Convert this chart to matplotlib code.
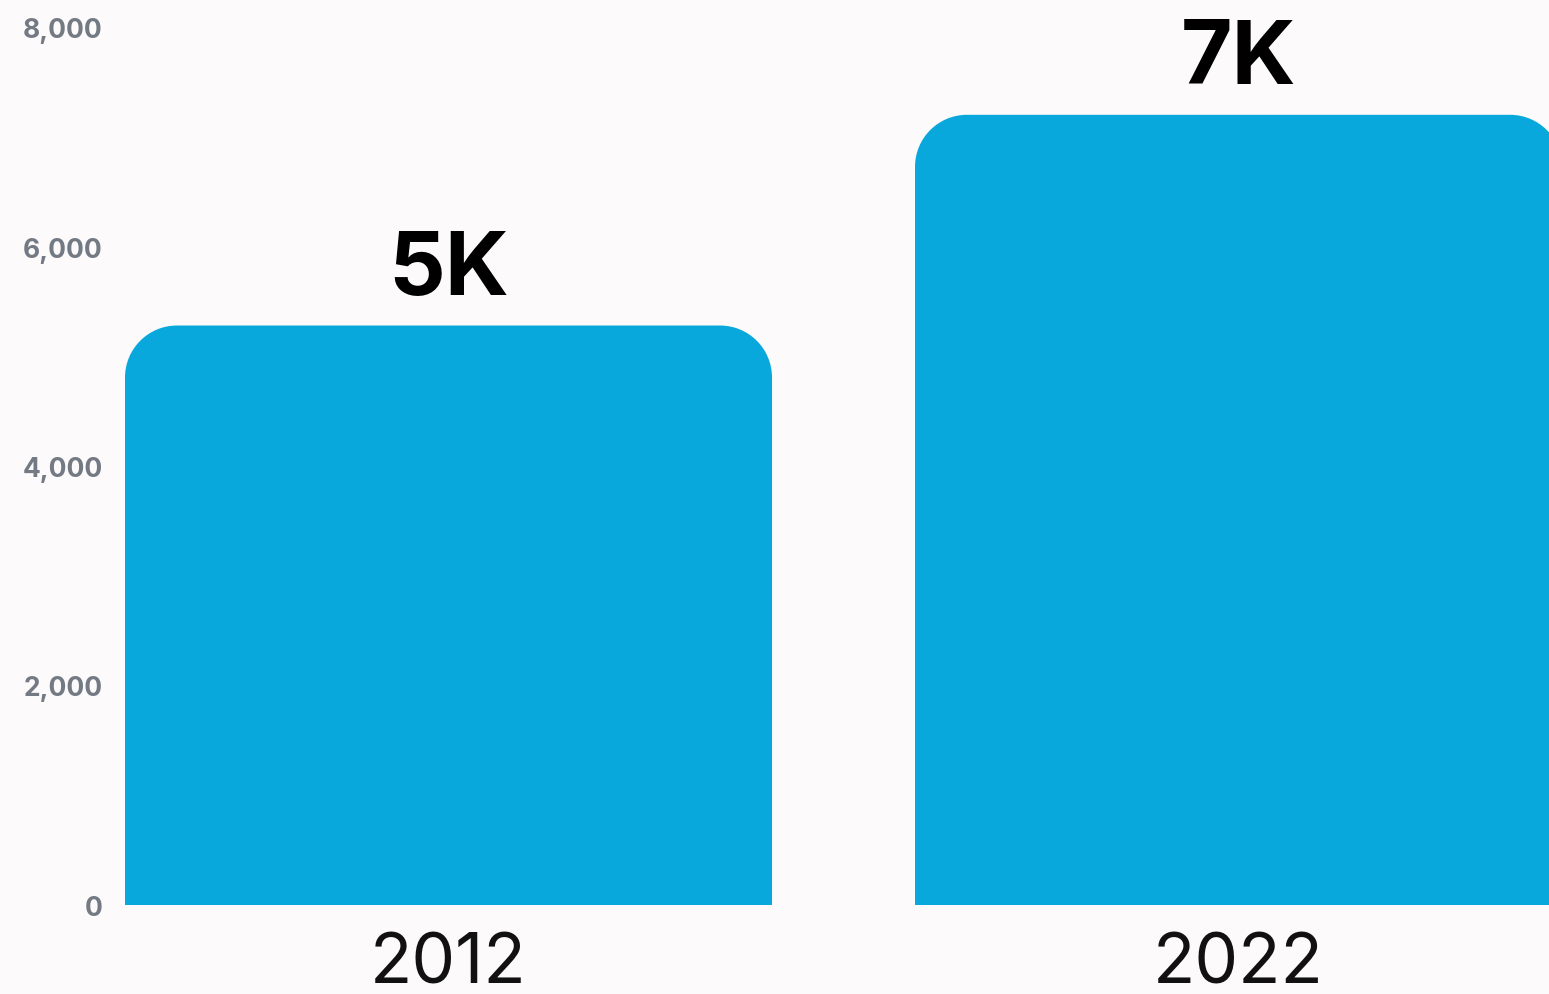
import matplotlib.pyplot as plt
from matplotlib.path import Path
from matplotlib.patches import PathPatch

# data
years = ["2012", "2022"]
values = [5280, 7200]
value_labels = ["5K", "7K"]
y_ticks = [0, 2000, 4000, 6000, 8000]

bg = "#fcfafa"
bar_color = "#08a8dc"
tick_color = "#737a84"

plt.rcParams["font.family"] = ["Inter", "DejaVu Sans"]

fig = plt.figure(figsize=(15.49, 9.95), dpi=100, facecolor=bg)
ax = fig.add_axes([125 / 1549, 89 / 995, 1 - 125 / 1549, (906 - 28) / 995])
ax.set_facecolor(bg)

width = 0.819
ax.set_xlim(-0.4095, 1.393)
ax.set_ylim(0, 8000)


def rounded_top_bar(ax, x0, w, h, r_px):
    # corner radius in pixels -> data units per axis
    bbox = ax.get_window_extent()
    x_per_px = (ax.get_xlim()[1] - ax.get_xlim()[0]) / bbox.width
    y_per_px = (ax.get_ylim()[1] - ax.get_ylim()[0]) / bbox.height
    rx = r_px * x_per_px
    ry = r_px * y_per_px
    k = 0.5523
    x1 = x0 + w
    verts = [
        (x0, 0), (x0, h - ry),
        (x0, h - ry + k * ry), (x0 + rx - k * rx, h), (x0 + rx, h),
        (x1 - rx, h),
        (x1 - rx + k * rx, h), (x1, h - ry + k * ry), (x1, h - ry),
        (x1, 0), (x0, 0),
    ]
    codes = [Path.MOVETO, Path.LINETO,
             Path.CURVE4, Path.CURVE4, Path.CURVE4,
             Path.LINETO,
             Path.CURVE4, Path.CURVE4, Path.CURVE4,
             Path.LINETO, Path.CLOSEPOLY]
    return PathPatch(Path(verts, codes), facecolor=bar_color, edgecolor="none")


for i, (v, lab) in enumerate(zip(values, value_labels)):
    ax.add_patch(rounded_top_bar(ax, i - width / 2, width, v, 52))
    ax.annotate(lab, (i, v), xytext=(0, 10), textcoords="offset points",
                ha="center", va="bottom", fontsize=64, fontweight="bold",
                color="black", clip_on=False)

ax.set_xticks(range(len(years)))
ax.set_xticklabels(years, fontsize=50, color="#111111")
ax.set_yticks(y_ticks)
ax.set_yticklabels([f"{t:,}" for t in y_ticks], fontsize=19,
                   fontweight="bold", color=tick_color)
ax.tick_params(axis="x", length=0, pad=19)
ax.tick_params(axis="y", length=0, pad=16)
for s in ax.spines.values():
    s.set_visible(False)

fig.savefig("out.png", dpi=100, facecolor=bg)
